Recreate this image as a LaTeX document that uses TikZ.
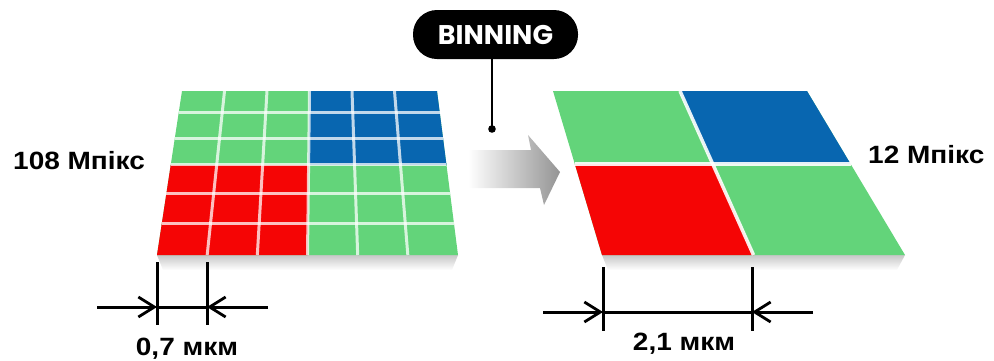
\documentclass[tikz,border=0pt]{standalone}
\usepackage{fontspec}
\setmainfont{Liberation Sans}
\newfontfamily\pillfont{Poppins}
\usetikzlibrary{calc,arrows.meta}

\definecolor{pixgreen}{RGB}{99,212,122}
\definecolor{pixblue}{RGB}{8,102,176}
\definecolor{pixred}{RGB}{245,5,5}

\tikzset{
  gridgap/.style={white, opacity=0.75, line width=3pt},
  binsgap/.style={white, opacity=0.9, line width=3.5pt},
  pill/.style={fill=black, rounded corners=24pt, minimum width=165pt, minimum height=49pt,
    inner sep=0pt, text=white, font=\pillfont\bfseries\fontsize{27}{27}\selectfont},
  label/.style={inner sep=0pt, font=\bfseries\fontsize{25}{25}\selectfont},
  dimline/.style={line width=3pt, black},
  dimarrow/.style={dimline, -{Straight Barb[length=16pt,width=20pt,line width=2.8pt]}},
}
\newcommand{\wide}[1]{\scalebox{1.12}[1]{#1}}

\begin{document}
\begin{tikzpicture}[x=1pt,y=-1pt]
\useasboundingbox (0,0) rectangle (994,360);

% ---------- fine sensor: 6x6 pixel grid in perspective ----------
\coordinate (lTL) at (182,91);
\coordinate (lTR) at (437,91);
\coordinate (lBL) at (157,255);
\coordinate (lBR) at (458,255);
\coordinate (lML) at ($(lTL)!0.451!(lBL)$);
\coordinate (lMR) at ($(lTR)!0.451!(lBR)$);
\coordinate (lTM) at ($(lTL)!0.5!(lTR)$);
\coordinate (lBM) at ($(lBL)!0.5!(lBR)$);
\coordinate (lC)  at ($(lML)!0.5!(lMR)$);

% soft shadow under the grid
\shade[top color=black!22, bottom color=white] (157,255) -- (458,255) -- (452,270) -- (163,270) -- cycle;

\fill[pixgreen] (lTL) -- (lTR) -- (lBR) -- (lBL) -- cycle;
\fill[pixblue]  (lTM) -- (lTR) -- (lMR) -- (lC) -- cycle;
\fill[pixred]   (lML) -- (lC) -- (lBM) -- (lBL) -- cycle;

\foreach \t in {0.134,0.287,0.451,0.622,0.805}
  \draw[gridgap] ($(lTL)!\t!(lBL)$) -- ($(lTR)!\t!(lBR)$);
\foreach \s in {0.1667,0.3333,0.5,0.6667,0.8333}
  \draw[gridgap] ($(lTL)!\s!(lTR)$) -- ($(lBL)!\s!(lBR)$);

% ---------- binned sensor: 2x2 large pixels ----------
\coordinate (rTL) at (553,91);
\coordinate (rTR) at (807,91);
\coordinate (rBL) at (602,255);
\coordinate (rBR) at (905,255);
\coordinate (rML) at ($(rTL)!0.445!(rBL)$);
\coordinate (rMR) at ($(rTR)!0.445!(rBR)$);
\coordinate (rTM) at ($(rTL)!0.5!(rTR)$);
\coordinate (rBM) at ($(rBL)!0.5!(rBR)$);
\coordinate (rC)  at ($(rML)!0.5!(rMR)$);

\shade[top color=black!22, bottom color=white] (602,255) -- (905,255) -- (897,270) -- (608,270) -- cycle;

\fill[pixgreen] (rTL) -- (rTR) -- (rBR) -- (rBL) -- cycle;
\fill[pixblue]  (rTM) -- (rTR) -- (rMR) -- (rC) -- cycle;
\fill[pixred]   (rML) -- (rC) -- (rBM) -- (rBL) -- cycle;
\draw[binsgap] (rML) -- (rMR);
\draw[binsgap] (rTM) -- (rBM);

% ---------- transition arrow ----------
\shade[left color=white, right color=black!42]
  (468,150) -- (531,150) -- (528,135) -- (560,172) -- (544,205) -- (540,188) -- (468,188) -- cycle;

% ---------- BINNING callout ----------
\node[pill] (bin) at (495.5,34.5) {BINNING};
\coordinate (pin) at (492,129);
\draw[line width=2pt] (bin.south -| pin) -- (pin);
\fill (pin) circle (3.8pt);

% ---------- resolution labels ----------
\node[label, anchor=base west] (res108) at (13,169) {\wide{108 Мпікс}};
\node[label, anchor=base west] (res12)  at (868,163) {\wide{12 Мпікс}};

% ---------- pixel pitch, fine ----------
\coordinate (a1t) at (157,262); \coordinate (a1b) at (157,325);
\coordinate (a2t) at (207,262); \coordinate (a2b) at (207,325);
\coordinate (a0) at (97,307);  \coordinate (a1) at (157,307);
\coordinate (a2) at (207,307); \coordinate (a3) at (268,307);
\draw[dimline] (a1t) -- (a1b);
\draw[dimline] (a2t) -- (a2b);
\draw[dimarrow] (a0) -- (a1);
\draw[dimline] (a1) -- (a2);
\draw[dimarrow] (a3) -- (a2);
\node[label, anchor=base] (pitch07) at (187,355) {\wide{0,7 мкм}};

% ---------- pixel pitch, binned ----------
\coordinate (b1t) at (603,267); \coordinate (b1b) at (603,331);
\coordinate (b2t) at (752,267); \coordinate (b2b) at (752,331);
\coordinate (b0) at (543,312); \coordinate (b1) at (603,312);
\coordinate (b2) at (752,312); \coordinate (b3) at (813,312);
\draw[dimline] (b1t) -- (b1b);
\draw[dimline] (b2t) -- (b2b);
\draw[dimarrow] (b0) -- (b1);
\draw[dimline] (b1) -- (b2);
\draw[dimarrow] (b3) -- (b2);
\node[label, anchor=base] (pitch21) at (684,350) {\wide{2,1 мкм}};

\end{tikzpicture}
\end{document}
